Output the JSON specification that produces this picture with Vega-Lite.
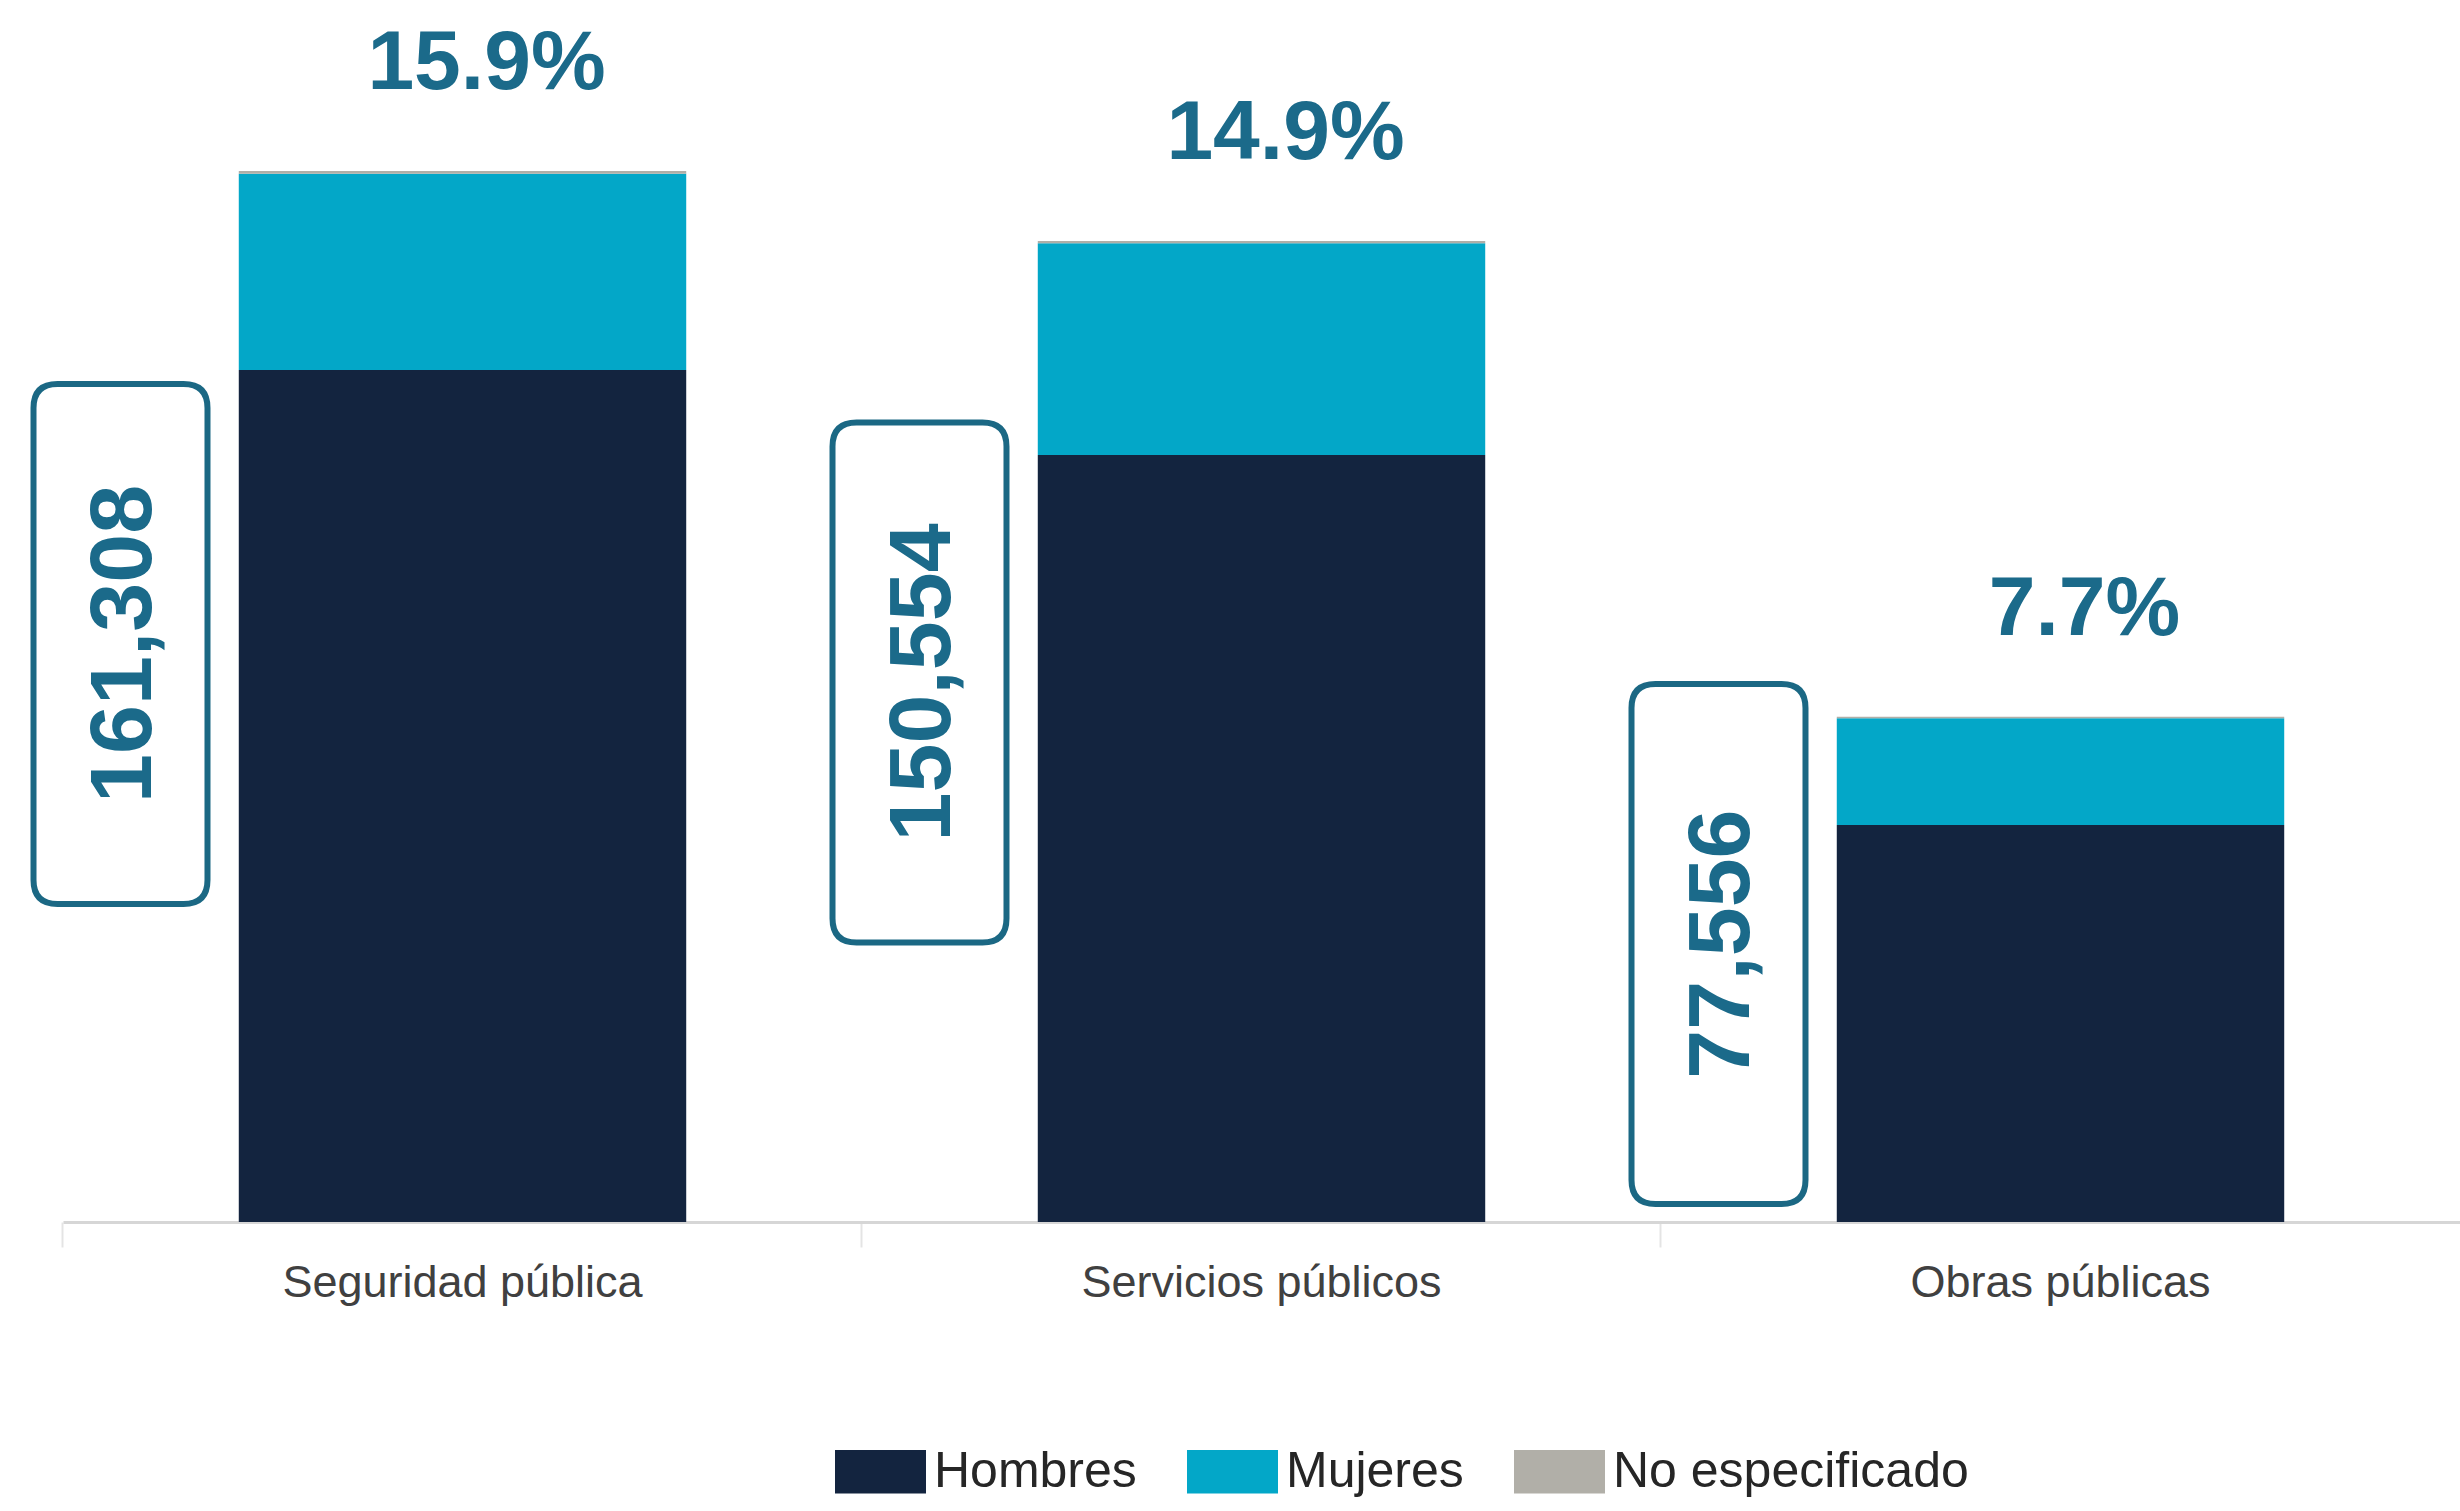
{
  "$schema": "https://vega.github.io/schema/vega-lite/v6.json",
  "width": 2397,
  "height": 1222,
  "autosize": {"type": "none"},
  "padding": {"left": 63, "top": 0, "right": 0, "bottom": 289},
  "background": "white",
  "config": {"view": {"stroke": null}, "font": "Liberation Sans"},
  "datasets": {
    "empleo": [
      {"funcion": "Seguridad pública", "sexo": "Hombres", "personas": 130755},
      {"funcion": "Seguridad pública", "sexo": "Mujeres", "personas": 30103},
      {"funcion": "Seguridad pública", "sexo": "No especificado", "personas": 450},
      {"funcion": "Servicios públicos", "sexo": "Hombres", "personas": 117710},
      {"funcion": "Servicios públicos", "sexo": "Mujeres", "personas": 32494},
      {"funcion": "Servicios públicos", "sexo": "No especificado", "personas": 350},
      {"funcion": "Obras públicas", "sexo": "Hombres", "personas": 60927},
      {"funcion": "Obras públicas", "sexo": "Mujeres", "personas": 16379},
      {"funcion": "Obras públicas", "sexo": "No especificado", "personas": 250}
    ],
    "totales": [
      {"funcion": "Seguridad pública", "total": 161308, "porcentaje": 0.159},
      {"funcion": "Servicios públicos", "total": 150554, "porcentaje": 0.149},
      {"funcion": "Obras públicas", "total": 77556, "porcentaje": 0.077}
    ]
  },
  "layer": [
    {
      "data": {"name": "empleo"},
      "transform": [
        {"calculate": "indexof(['Hombres','Mujeres','No especificado'], datum.sexo)", "as": "orden"}
      ],
      "mark": {"type": "bar"},
      "encoding": {
        "x": {
          "field": "funcion",
          "type": "nominal",
          "sort": ["Seguridad pública", "Servicios públicos", "Obras públicas"],
          "scale": {"paddingInner": 0.44, "paddingOuter": 0.22},
          "axis": {
            "title": null,
            "labelAngle": 0,
            "labelFontSize": 45,
            "labelColor": "#404040",
            "labelPadding": 13,
            "labelLimit": 0,
            "domainColor": "#d6d6d6",
            "domainWidth": 3,
            "tickColor": "#e4e4e4",
            "tickSize": 25,
            "tickWidth": 2,
            "bandPosition": -0.393
          }
        },
        "y": {
          "field": "personas",
          "type": "quantitative",
          "stack": "zero",
          "scale": {"domain": [0, 187540], "nice": false},
          "axis": null
        },
        "color": {
          "field": "sexo",
          "type": "nominal",
          "scale": {
            "domain": ["Hombres", "Mujeres", "No especificado"],
            "range": ["#13243f", "#03a7c8", "#b1afa8"]
          },
          "legend": {
            "title": null,
            "orient": "none",
            "legendX": 772,
            "legendY": 1426,
            "direction": "horizontal",
            "symbolType": "M-1,-0.48H1V0.48H-1Z",
            "symbolSize": 8281,
            "symbolStrokeWidth": 0,
            "labelFontSize": 50,
            "labelColor": "#262626",
            "labelOffset": 8,
            "labelLimit": 600,
            "columnPadding": 50,
            "padding": 0
          }
        },
        "order": {"field": "orden", "type": "quantitative"}
      }
    },
    {
      "data": {"name": "totales"},
      "mark": {
        "type": "text",
        "dy": -82,
        "dx": 24,
        "align": "center",
        "baseline": "alphabetic",
        "fontSize": 84,
        "fontWeight": "bold",
        "color": "#1b6a8a"
      },
      "encoding": {
        "x": {"field": "funcion", "type": "nominal", "sort": ["Seguridad pública", "Servicios públicos", "Obras públicas"]},
        "y": {"field": "total", "type": "quantitative"},
        "text": {"field": "porcentaje", "type": "quantitative", "format": ".1%"}
      }
    },
    {
      "data": {"name": "totales"},
      "transform": [{"calculate": "datum.total * 0.55", "as": "posicion"}],
      "mark": {
        "type": "point",
        "shape": "M-0.3346,-0.9077Q-0.3346,-1,-0.2423,-1L0.2423,-1Q0.3346,-1,0.3346,-0.9077L0.3346,0.9077Q0.3346,1,0.2423,1L-0.2423,1Q-0.3346,1,-0.3346,0.9077Z",
        "size": 270400,
        "filled": false,
        "fill": "white",
        "fillOpacity": 1,
        "stroke": "#1b6884",
        "strokeWidth": 6,
        "opacity": 1,
        "xOffset": -342
      },
      "encoding": {
        "x": {"field": "funcion", "type": "nominal", "sort": ["Seguridad pública", "Servicios públicos", "Obras públicas"]},
        "y": {"field": "posicion", "type": "quantitative"}
      }
    },
    {
      "data": {"name": "totales"},
      "transform": [{"calculate": "datum.total * 0.55", "as": "posicion"}],
      "mark": {
        "type": "text",
        "angle": 270,
        "align": "center",
        "baseline": "middle",
        "fontSize": 88,
        "fontWeight": "bold",
        "color": "#1b6a8a",
        "xOffset": -338
      },
      "encoding": {
        "x": {"field": "funcion", "type": "nominal", "sort": ["Seguridad pública", "Servicios públicos", "Obras públicas"]},
        "y": {"field": "posicion", "type": "quantitative"},
        "text": {"field": "total", "type": "quantitative", "format": ","}
      }
    }
  ]
}
